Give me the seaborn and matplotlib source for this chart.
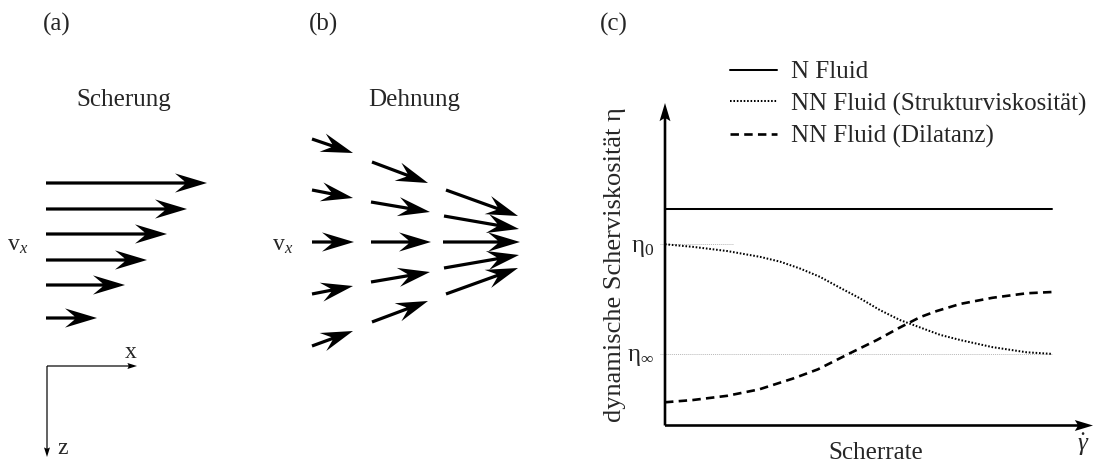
import numpy as np
import pandas as pd
import matplotlib
matplotlib.use("Agg")
import matplotlib.pyplot as plt
import seaborn as sns

# ---------------- data ----------------
# (a) simple shear: layer heights and velocity arrow lengths (canvas pixels)
shear_layer_y = [183, 209, 234, 260, 285, 318]
shear_speed = [161, 141, 121, 101, 79, 51]
shear_x0 = 46

# (b) extensional flow: three columns of five velocity vectors (tail -> tip)
stretch_x0 = [312, 312, 312, 312, 312, 372, 371, 371, 371, 372, 446, 444, 443, 444, 446]
stretch_y0 = [139, 190, 242, 294, 346, 162, 202, 242, 282, 322, 190, 216, 242, 268, 294]
stretch_x1 = [353, 353, 354, 353, 353, 428, 430, 431, 430, 428, 518, 519, 520, 519, 518]
stretch_y1 = [153, 198, 242, 286, 331, 183, 212, 242, 272, 301, 216, 229, 242, 255, 268]

# (c) viscosity vs. shear rate (arbitrary units)
fluid_names = ["N Fluid", "NN Fluid (Strukturviskosität)", "NN Fluid (Dilatanz)"]
rate_newton = [0.0, 9.05]
eta_newton = [6.7, 6.7]
rate_thinning = [0.0, 0.65, 1.45, 2.22, 2.69, 3.15, 3.62, 4.09, 4.56, 5.02, 5.49,
                 5.96, 6.43, 6.9, 7.65, 8.45, 9.05]
eta_thinning = [5.62, 5.54, 5.41, 5.23, 5.08, 4.87, 4.61, 4.27, 3.94, 3.58, 3.27,
                3.04, 2.81, 2.65, 2.43, 2.27, 2.22]
rate_thickening = [0.0, 0.65, 1.45, 2.2, 3.0, 3.57, 4.32, 4.95, 5.49, 5.96, 6.35,
                   6.9, 7.65, 8.45, 9.05]
eta_thickening = [0.72, 0.79, 0.92, 1.12, 1.46, 1.74, 2.24, 2.65, 3.04, 3.36, 3.55,
                  3.77, 3.96, 4.10, 4.14]
eta_0 = 5.62
eta_inf = 2.22

# ---------------- style ----------------
sns.set_theme(style="white")
plt.rcParams["font.family"] = ["Liberation Serif", "DejaVu Serif"]
plt.rcParams["mathtext.fontset"] = "custom"
plt.rcParams["mathtext.rm"] = "Liberation Serif"
plt.rcParams["mathtext.it"] = "Liberation Serif:italic"
plt.rcParams["mathtext.bf"] = "Liberation Serif:bold"

W, H = 1100, 463
fig = plt.figure(figsize=(W / 100, H / 100), dpi=100)

# canvas in pixel units for the two flow sketches
cv = fig.add_axes([0, 0, 1, 1])
cv.set_xlim(0, W)
cv.set_ylim(H, 0)
cv.axis("off")

FS = 18
head = dict(units="dots", width=3.2, headwidth=6.0, headlength=10.0,
            headaxislength=7.0, color="black", angles="xy",
            scale_units="xy", scale=1)

# (a) shear profile
cv.quiver([shear_x0] * len(shear_speed), shear_layer_y, shear_speed,
          [0] * len(shear_speed), **head)
cv.text(57, 24, "(a)", fontsize=FS, ha="center", va="center")
cv.text(124, 100, "Scherung", fontsize=FS, ha="center", va="center")
cv.text(18, 246, r"v$_x$", fontsize=17, ha="center", va="center")

# coordinate frame x / z
cv.quiver([47, 47], [366, 366], [90, 0], [0, 91], units="dots", width=1.2,
          headwidth=5, headlength=8, headaxislength=7, color="black",
          angles="xy", scale_units="xy", scale=1)
cv.text(131, 353, "x", fontsize=17, ha="center", va="center")
cv.text(63, 449, "z", fontsize=17, ha="center", va="center")

# (b) extensional flow
u = np.subtract(stretch_x1, stretch_x0)
v = np.subtract(stretch_y1, stretch_y0)
cv.quiver(stretch_x0, stretch_y0, u, v, **head)
cv.text(323, 24, "(b)", fontsize=FS, ha="center", va="center")
cv.text(414, 100, "Dehnung", fontsize=FS, ha="center", va="center")
cv.text(283, 246, r"v$_x$", fontsize=17, ha="center", va="center")

# (c) viscosity diagram
x0, x1, y0, y1 = 665, 1093, 425.5, 103
ax = fig.add_axes([x0 / W, 1 - y0 / H, (x1 - x0) / W, (y0 - y1) / H])
ax.patch.set_alpha(0)

df = pd.concat([
    pd.DataFrame({"rate": rate_newton, "eta": eta_newton, "fluid": fluid_names[0]}),
    pd.DataFrame({"rate": rate_thinning, "eta": eta_thinning, "fluid": fluid_names[1]}),
    pd.DataFrame({"rate": rate_thickening, "eta": eta_thickening, "fluid": fluid_names[2]}),
], ignore_index=True)

sns.lineplot(data=df, x="rate", y="eta", style="fluid", style_order=fluid_names,
             dashes={fluid_names[0]: "", fluid_names[1]: (0.8, 0.9),
                     fluid_names[2]: (3.2, 2.0)},
             color="black", estimator=None, sort=False, legend=False,
             linewidth=1.45, ax=ax)
handles = ax.get_lines()[:3]
handles[2].set_linewidth(1.9)

# reference levels eta_0 and eta_inf
ax.plot([-0.12, 1.6], [eta_0, eta_0], color="#b8b8b8", lw=0.7, ls=(0, (1, 1)),
        clip_on=False, zorder=1)
ax.plot([-0.12, 9.05], [eta_inf, eta_inf], color="#b8b8b8", lw=0.7, ls=(0, (1, 1)),
        clip_on=False, zorder=1)

# axes drawn as arrows
ax.quiver([0, 0], [0, 0], [10, 0], [0, 10], units="dots", width=2.6,
          headwidth=4.2, headlength=7, headaxislength=6, color="black",
          angles="xy", scale_units="xy", scale=1, clip_on=False, zorder=5)

ax.set_xlim(0, 10)
ax.set_ylim(0, 10)
for s in ax.spines.values():
    s.set_visible(False)
ax.set_xticks([])
ax.set_yticks([eta_inf, eta_0], labels=[r"η$_\infty$", r"η$_0$"])
ax.tick_params(axis="y", length=0, pad=8, labelsize=18)

ax.set_ylabel("dynamische Scherviskosität η", fontsize=19)
ax.yaxis.set_label_coords((615 - x0) / (x1 - x0), 0.5)
ax.yaxis.label.set_va("center")
ax.set_xlabel("Scherrate", fontsize=FS)
ax.xaxis.set_label_coords(0.492, (y0 - 453) / (y0 - y1))
ax.xaxis.label.set_va("center")
ax.text((1083 - x0) / (x1 - x0), (y0 - 445) / (y0 - y1), r"$\dot{\gamma}$",
        transform=ax.transAxes, fontsize=FS, ha="center", va="center")

fig.text(614 / W, 1 - 24 / H, "(c)", fontsize=FS, ha="center", va="center")

ax.legend(handles, fluid_names, loc="upper left",
          bbox_to_anchor=(730 / W, 1 - 61 / H), bbox_transform=fig.transFigure,
          frameon=False, borderpad=0, borderaxespad=0, fontsize=FS,
          handlelength=1.88, handletextpad=0.56, labelspacing=0.36)

fig.savefig("out.png", dpi=100)
